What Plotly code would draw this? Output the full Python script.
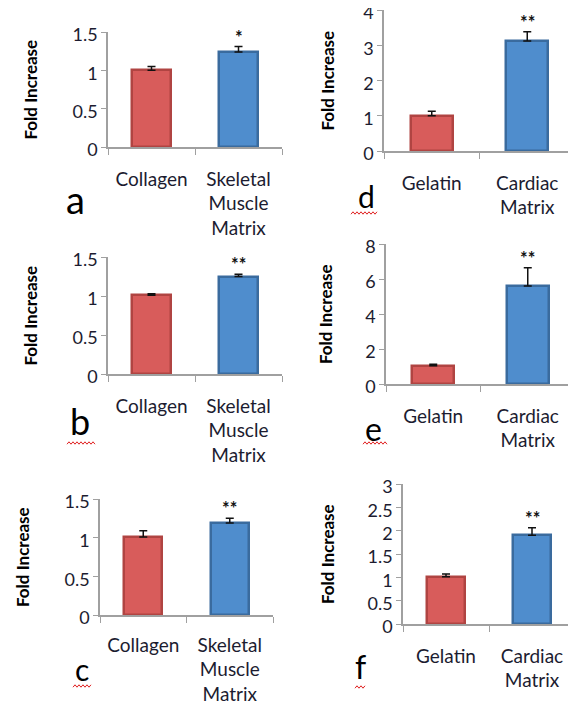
import plotly.graph_objects as go

# page body has an 8px margin, so the figure is sized to fit the 576x704 window
OFF = 8
W, H = 576 - OFF, 704 - OFF

# ---------------- data ----------------
panel_letters = ["a", "b", "c", "d", "e", "f"]
cats_skeletal = ["Collagen", "Skeletal<br>Muscle<br>Matrix"]
cats_cardiac = ["Gelatin", "Cardiac<br>Matrix"]

values_a = [1.00, 1.24]
errors_a = [0.05, 0.07]
stars_a = ["", "*"]

values_b = [1.01, 1.25]
errors_b = [0.02, 0.03]
stars_b = ["", "**"]

values_c = [1.01, 1.19]
errors_c = [0.08, 0.06]
stars_c = ["", "**"]

values_d = [1.00, 3.12]
errors_d = [0.13, 0.26]
stars_d = ["", "**"]

values_e = [1.05, 5.60]
errors_e = [0.08, 1.05]
stars_e = ["", "**"]

values_f = [1.01, 1.90]
errors_f = [0.06, 0.16]
stars_f = ["", "**"]

yticks_skeletal = [0, 0.5, 1, 1.5]
yticks_d = [0, 1, 2, 3, 4]
yticks_e = [0, 2, 4, 6, 8]
yticks_f = [0, 0.5, 1, 1.5, 2, 2.5, 3]

# ---------------- styling / layout ----------------
FILL = ["#d85c5b", "#4f8dcd"]
EDGE = ["#b04442", "#3a6b9e"]
AXIS_GRAY = "#a0a0a0"
TXT = "#1c1c30"
FONT = "Lato, 'Open Sans', sans-serif"

panels = [
    dict(cats=cats_skeletal, v=values_a, e=errors_a, s=stars_a, t=yticks_skeletal,
         xp=(108, 282), yp=(32, 147), title_x=30, letter_xy=(75, 199), size=38,
         standoff=14, squig=None),
    dict(cats=cats_skeletal, v=values_b, e=errors_b, s=stars_b, t=yticks_skeletal,
         xp=(108, 282), yp=(257, 374), title_x=30, letter_xy=(80, 421), size=36,
         standoff=14, squig=(67, 95, 443)),
    dict(cats=cats_skeletal, v=values_c, e=errors_c, s=stars_c, t=yticks_skeletal,
         xp=(100, 273), yp=(499, 615), title_x=22, letter_xy=(82, 669), size=30,
         standoff=12, squig=(73, 92, 686)),
    dict(cats=cats_cardiac, v=values_d, e=errors_d, s=stars_d, t=yticks_d,
         xp=(384, 575), yp=(10, 151), title_x=327, letter_xy=(366, 196), size=30,
         standoff=14, squig=(351, 378, 213)),
    dict(cats=cats_cardiac, v=values_e, e=errors_e, s=stars_e, t=yticks_e,
         xp=(386, 575), yp=(244, 384), title_x=325, letter_xy=(373, 428), size=32,
         standoff=14, squig=(363, 387, 443)),
    dict(cats=cats_cardiac, v=values_f, e=errors_f, s=stars_f, t=yticks_f,
         xp=(403, 575), yp=(484, 624), title_x=327, letter_xy=(360, 666), size=32,
         standoff=14, squig=(355, 366, 687)),
]


def px_x(x):
    return (x - OFF) / W


def px_y(y):
    return 1 - (y - OFF) / H


fig = go.Figure()
annotations = []
shapes = []

for i, p in enumerate(panels):
    n = "" if i == 0 else str(i + 1)
    xa, ya = "x" + n, "y" + n
    fig.add_trace(go.Bar(
        x=p["cats"], y=p["v"], xaxis=xa, yaxis=ya, width=0.44,
        marker=dict(color=FILL, line=dict(color=EDGE, width=2.5)),
        error_y=dict(type="data", symmetric=False, array=p["e"],
                     arrayminus=[0] * len(p["e"]), color="#111111",
                     thickness=1.5, width=4),
        showlegend=False, hoverinfo="skip",
    ))
    t = p["t"]
    fig.layout["xaxis" + n] = dict(
        domain=[px_x(p["xp"][0]), min(1, px_x(p["xp"][1]))], anchor=ya,
        type="category", range=[-0.5, 1.5], automargin=False,
        showline=True, linecolor=AXIS_GRAY, linewidth=1.5,
        ticks="outside", tickson="boundaries", ticklen=6, tickcolor=AXIS_GRAY,
        tickfont=dict(family=FONT, size=19, color=TXT),
        ticklabelstandoff=p["standoff"], ticklabeloverflow="allow",
        showgrid=False, zeroline=False, fixedrange=True,
    )
    fig.layout["yaxis" + n] = dict(
        domain=[px_y(p["yp"][1]), min(1, px_y(p["yp"][0]))], anchor=xa,
        range=[t[0], t[-1]], tickvals=t, automargin=False,
        showline=True, linecolor=AXIS_GRAY, linewidth=1.5,
        ticks="outside", ticklen=5, tickcolor=AXIS_GRAY,
        tickfont=dict(family=FONT, size=18, color=TXT),
        ticklabelshift=3, ticklabeloverflow="allow",
        showgrid=False, zeroline=False, fixedrange=True,
    )
    annotations.append(dict(
        text="<b>Fold Increase</b>", xref="paper", yref="paper",
        x=px_x(p["title_x"]), y=px_y((p["yp"][0] + p["yp"][1]) / 2),
        textangle=-90, showarrow=False, xanchor="center", yanchor="middle",
        font=dict(family=FONT, size=17, color="#000000"),
    ))
    for c, v, e, s in zip(p["cats"], p["v"], p["e"], p["s"]):
        if s:
            annotations.append(dict(
                text="<b>" + s + "</b>", xref=xa, yref=ya, x=c, y=v + e,
                showarrow=False, xanchor="center", yanchor="bottom", yshift=-3,
                font=dict(family=FONT, size=18, color="#111111"),
            ))
    lx, ly = p["letter_xy"]
    annotations.append(dict(
        text=panel_letters[i], xref="paper", yref="paper",
        x=px_x(lx), y=px_y(ly), showarrow=False,
        xanchor="center", yanchor="middle",
        font=dict(family=FONT, size=p["size"], color="#000000"),
    ))
    if p["squig"]:
        x0, x1, yy = p["squig"]
        pts = []
        k = 0
        xx = x0
        while xx <= x1:
            pts.append((xx, yy + (1.2 if k % 2 == 0 else -1.2)))
            xx += 2
            k += 1
        path = "M " + " L ".join(f"{px_x(a):.5f},{px_y(b):.5f}" for a, b in pts)
        shapes.append(dict(type="path", xref="paper", yref="paper", path=path,
                           line=dict(color="#e02020", width=1)))

fig.update_layout(
    width=W, height=H, margin=dict(l=0, r=0, t=0, b=0, autoexpand=False),
    paper_bgcolor="white", plot_bgcolor="white",
    annotations=annotations, shapes=shapes, bargap=0,
)

fig.write_html("out.html")
